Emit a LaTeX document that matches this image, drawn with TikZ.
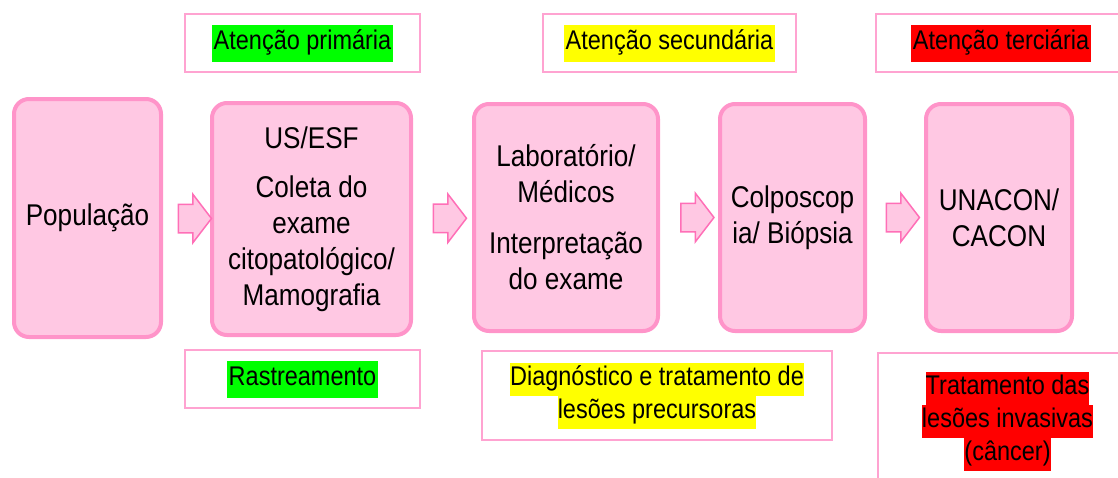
\documentclass[tikz,border=0pt]{standalone}
\usepackage{fontspec}
\setmainfont{Liberation Sans}[FakeStretch=0.87]
\usetikzlibrary{shapes.arrows}

\definecolor{boxfill}{HTML}{FFC8E3}
\definecolor{boxline}{HTML}{FF94C9}
\definecolor{arrowline}{HTML}{FF6FB7}
\definecolor{labelline}{HTML}{FFA3D1}
\definecolor{hlgreen}{HTML}{00FF00}
\definecolor{hlyellow}{HTML}{FFFF00}
\definecolor{hlred}{HTML}{FF0000}

\newcommand{\hl}[2]{{\setlength{\fboxsep}{0pt}\colorbox{#1}{\strut #2}}}
\newcommand{\hlone}[2]{{\setlength{\fboxsep}{2pt}\colorbox{#1}{\strut #2}}}

\begin{document}
\begin{tikzpicture}[x=1pt,y=-1pt,
  step node/.style={rectangle,rounded corners=15pt,draw=boxline,fill=boxfill,line width=4pt,
    align=center,inner sep=0pt,font=\fontsize{30}{36}\selectfont},
  label node/.style={rectangle,draw=labelline,line width=2pt,align=center,inner sep=0pt,
    font=\fontsize{27}{33}\selectfont},
  arrowbox/.style={single arrow,draw=arrowline,fill=boxfill,line width=1.5pt,inner sep=0pt,
    minimum height=33pt,single arrow head extend=10pt,single arrow tip angle=105}]
  \useasboundingbox (0,0) rectangle (1118,477);
  \node[step node, minimum width=147pt, minimum height=238pt] (pop) at (87.5,218) {População};
  \node[step node, minimum width=199pt, minimum height=232pt] (us) at (311.5,219)
    {US/ESF\\[13pt]Coleta do\\exame\\citopatológico/\\Mamografia};
  \node[step node, minimum width=184pt, minimum height=227pt] (lab) at (566,217.5)
    {Laboratório/\\Médicos\\[15pt]Interpretação\\do exame};
  \node[step node, minimum width=145pt, minimum height=227pt] (colpo) at (792.5,217.5)
    {Colposcop\\ia/ Biópsia};
  \node[step node, minimum width=146pt, minimum height=227pt] (unacon) at (999,217.5)
    {UNACON/\\CACON};

  \path (pop.east) -- node[arrowbox, xshift=3pt] (a1) {\rule{0pt}{27pt}} (us.west);
  \path (us.east) -- node[arrowbox, xshift=2pt] (a2) {\rule{0pt}{27pt}} (lab.west);
  \path (lab.east) -- node[arrowbox, xshift=3pt] (a3) {\rule{0pt}{27pt}} (colpo.west);
  \path (colpo.east) -- node[arrowbox, xshift=2pt] (a4) {\rule{0pt}{27pt}} (unacon.west);

  \node[label node, minimum width=235pt, minimum height=58pt] (prim) at (302.5,43)
    {\hlone{hlgreen}{Atenção primária}};
  \node[label node, minimum width=253pt, minimum height=58pt] (sec) at (669.5,43)
    {\hlone{hlyellow}{Atenção secundária}};
  \node[label node, minimum width=250pt, minimum height=58pt] (ter) at (1001,43)
    {\hlone{hlred}{Atenção terciária}};

  \node[label node, minimum width=235pt, minimum height=58pt] (rast) at (302.5,379)
    {\hlone{hlgreen}{Rastreamento}};
  \node[label node, minimum width=350pt, minimum height=89pt] (diag) at (657,395.5)
    {\hl{hlyellow}{Diagnóstico e tratamento de}\\\hl{hlyellow}{lesões precursoras}};
  \node[label node, minimum width=259pt, minimum height=137pt] (trat) at (1007.5,421)
    {\hl{hlred}{Tratamento das}\\\hl{hlred}{lesões invasivas}\\\hl{hlred}{(câncer)}};
\end{tikzpicture}
\end{document}
